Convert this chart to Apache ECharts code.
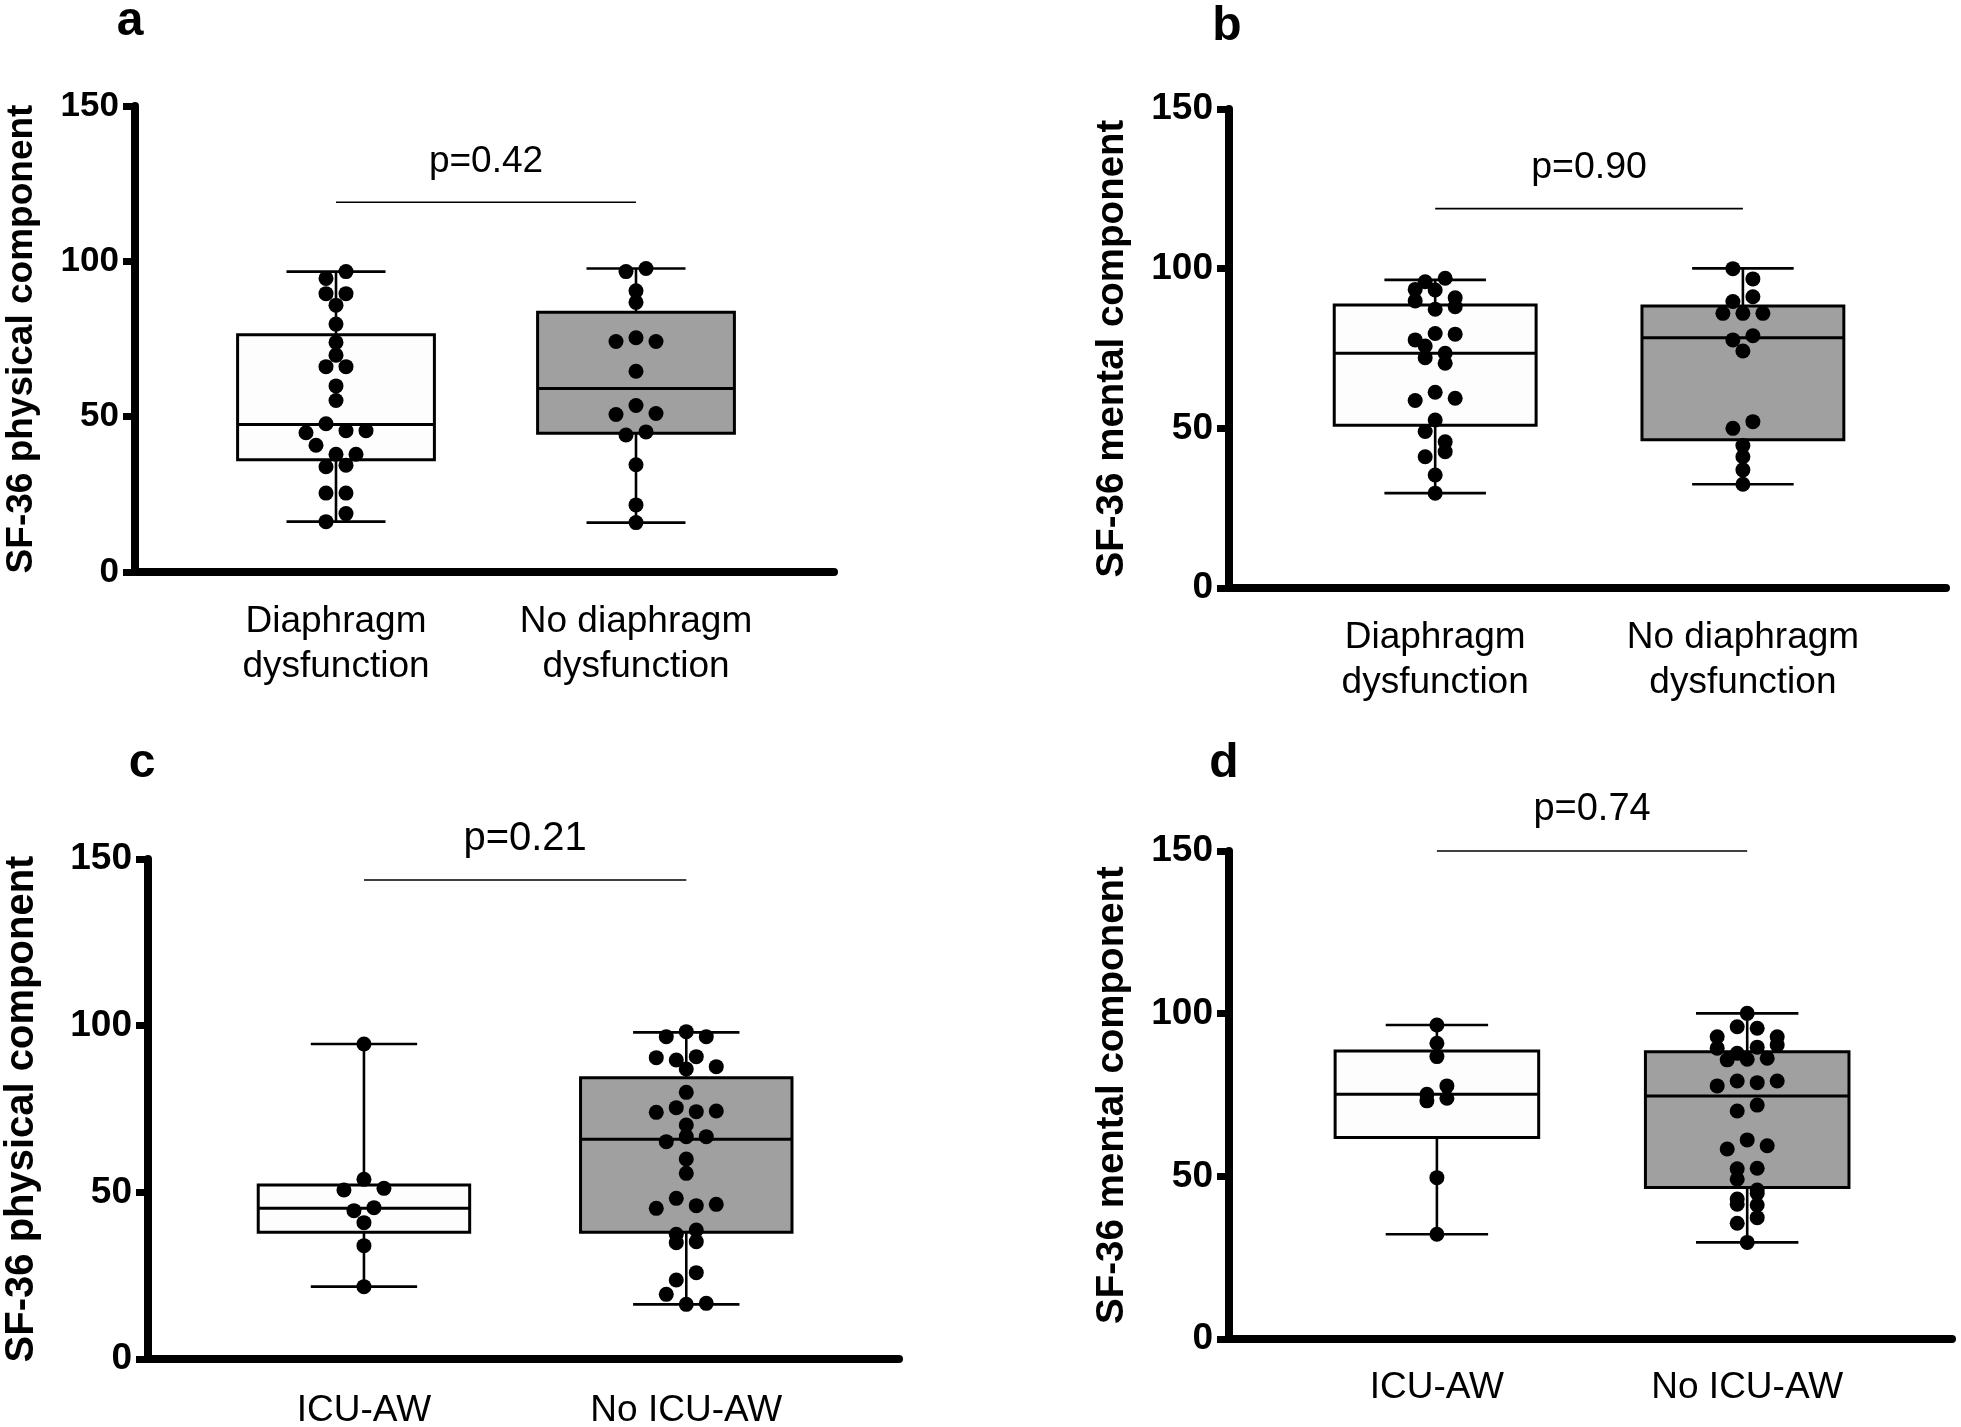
<!DOCTYPE html>
<html><head><meta charset="utf-8">
<script src="https://cdn.jsdelivr.net/npm/echarts@6/dist/echarts.min.js"></script>
<style>html,body{margin:0;padding:0;background:#fff}#c{width:1961px;height:1427px}</style>
</head><body><div id="c"></div>
<script>
const FONT = '"Liberation Sans", Arial, Helvetica, sans-serif';

// ---------- categories / labels ----------
const catsDiaphragm = ['Diaphragm\ndysfunction', 'No diaphragm\ndysfunction'];
const catsICU = ['ICU-AW', 'No ICU-AW'];
const yTitles = ['SF-36 physical component', 'SF-36 mental component', 'SF-36 physical component', 'SF-36 mental component'];
const panelLetters = ['a', 'b', 'c', 'd'];
const pLabels = ['p=0.42', 'p=0.90', 'p=0.21', 'p=0.74'];
const bracketY = [119, 118.8, 143.7, 150];
const yMin = 0, yMax = 150, yStep = 50;

// ---------- individual values (reading order) ----------
const aDys   = [94.5, 96.7, 89.6, 89.6, 85.9, 79.8, 73.9, 69.8, 66.1, 66.1, 59.9, 55.2, 44.8, 47.7, 45.5, 45.5, 40.8, 37.9, 37.9, 33.9, 34.4, 25.4, 25.4, 16.2, 18.8];
const aNoDys = [96.7, 97.7, 90.5, 86.8, 74.2, 75.4, 74.2, 64.6, 50.7, 53.6, 51.0, 44.1, 45.1, 34.5, 21.6, 15.9];
const bDys   = [95.9, 97.0, 93.5, 93.3, 90.9, 89.9, 87.3, 88.1, 77.7, 79.7, 79.5, 75.8, 73.5, 72.1, 70.4, 58.7, 61.3, 59.4, 52.6, 49.0, 45.8, 41.1, 42.7, 35.4, 29.7];
const bNoDys = [100.0, 96.8, 89.7, 91.2, 86.0, 86.0, 86.0, 77.7, 79.0, 74.2, 50.0, 52.1, 44.6, 41.1, 37.0, 32.5];
const cICU   = [94.5, 50.7, 53.9, 51.2, 44.5, 45.4, 40.9, 34.0, 21.7];
const cNoICU = [96.7, 98.2, 96.7, 90.4, 89.7, 90.7, 87.0, 87.7, 80.0, 74.0, 75.4, 74.2, 74.4, 70.2, 65.2, 66.7, 66.7, 60.0, 55.7, 45.2, 48.2, 46.0, 46.4, 34.9, 37.4, 38.7, 35.2, 23.7, 25.9, 19.4, 16.4, 16.7];
const dICU   = [96.5, 90.9, 86.8, 73.2, 75.2, 77.8, 74.0, 49.6, 32.2];
const dNoICU = [100.1, 92.9, 96.0, 95.5, 92.9, 89.4, 87.8, 89.7, 90.4, 85.8, 86.0, 86.3, 77.8, 79.3, 78.8, 79.3, 70.1, 71.9, 58.4, 61.2, 59.4, 52.3, 49.1, 52.5, 45.8, 43.0, 44.8, 41.4, 41.2, 35.6, 37.3, 29.7];

// ---------- box statistics [min, Q1, median, Q3, max] ----------
const aDysBox   = [16.2, 36.1, 47.5, 76.4, 96.7];
const aNoDysBox = [15.9, 44.7, 59.1, 83.6, 97.7];
const bDysBox   = [29.7, 51.0, 73.5, 88.6, 96.5];
const bNoDysBox = [32.5, 46.4, 78.4, 88.3, 100.1];
const cICUBox   = [21.7, 38.0, 45.2, 52.2, 94.5];
const cNoICUBox = [16.4, 38.0, 65.9, 84.4, 98.0];
const dICUBox   = [32.2, 61.9, 75.2, 88.5, 96.5];
const dNoICUBox = [29.7, 46.6, 74.7, 88.3, 100.1];

// ---------- layout / style ----------
const panels = [
  {grid: {left: 135, top: 106, width: 699, height: 466}, cats: catsDiaphragm, groups: [aDys, aNoDys], boxes: [aDysBox, aNoDysBox],
   letter: [130, 22], labelMargin: 27, titleSize: 37, tickSize: 35, pSize: 37, nameGap: 95},
  {grid: {left: 1229, top: 109, width: 717, height: 479}, cats: catsDiaphragm, groups: [bDys, bNoDys], boxes: [bDysBox, bNoDysBox],
   letter: [1227, 27], labelMargin: 27, titleSize: 38.5, tickSize: 37, pSize: 37.5, nameGap: 97},
  {grid: {left: 148, top: 859, width: 751, height: 500}, cats: catsICU, groups: [cICU, cNoICU], boxes: [cICUBox, cNoICUBox],
   letter: [142, 764], labelMargin: 29, titleSize: 40, tickSize: 37, pSize: 40, nameGap: 106},
  {grid: {left: 1229, top: 851, width: 723, height: 488}, cats: catsICU, groups: [dICU, dNoICU], boxes: [dICUBox, dNoICUBox],
   letter: [1224, 764], labelMargin: 26, titleSize: 38.5, tickSize: 37, pSize: 38, nameGap: 97}
];
const X_MIN = -0.67, X_MAX = 1.66;
const BOX_W = 0.656, CAP_W = 0.33;
const boxFills = ['#fdfdfd', '#a0a0a0'];
const DOT = 15, STEP_PX = 20, THRESH_PX = 11;

function buildOption(dotData) {
  const grids = [], xAxes = [], yAxes = [], series = [], graphics = [];
  panels.forEach((p, i) => {
    grids.push(Object.assign({containLabel: false, outerBoundsMode: 'none'}, p.grid));
    xAxes.push({
      type: 'value', gridIndex: i, min: X_MIN, max: X_MAX,
      axisLine: {show: true, onZero: false, lineStyle: {color: '#000', width: 8}},
      axisTick: {show: false}, splitLine: {show: false},
      axisLabel: {
        customValues: [0, 1], margin: p.labelMargin, color: '#000', fontFamily: FONT, fontSize: 37, lineHeight: 45,
        formatter: (v) => p.cats[Math.round(v)] || ''
      }
    });
    yAxes.push({
      type: 'value', gridIndex: i, min: yMin, max: yMax, interval: yStep,
      name: yTitles[i], nameLocation: 'middle', nameGap: p.nameGap,
      nameTextStyle: {color: '#000', fontFamily: FONT, fontSize: p.titleSize, fontWeight: 'bold'},
      axisLine: {show: true, onZero: false, lineStyle: {color: '#000', width: 8}},
      axisTick: {show: true, length: 12, lineStyle: {color: '#000', width: 7}},
      axisLabel: {color: '#000', fontFamily: FONT, fontSize: p.tickSize, fontWeight: 'bold', margin: 16},
      splitLine: {show: false}
    });
    series.push({
      type: 'custom', xAxisIndex: i, yAxisIndex: i, clip: false, z: 2, silent: true,
      data: p.boxes.map((b, k) => [k].concat(b)),
      renderItem: (params, api) => {
        const x = api.value(0);
        const pMin = api.coord([x, api.value(1)]);
        const pQ1 = api.coord([x, api.value(2)]);
        const pMed = api.coord([x, api.value(3)]);
        const pQ3 = api.coord([x, api.value(4)]);
        const pMax = api.coord([x, api.value(5)]);
        const hw = api.size([BOX_W, 0])[0] / 2;
        const cw = api.size([CAP_W, 0])[0] / 2;
        const cx = pMed[0];
        const ls = {stroke: '#000', lineWidth: 2.6};
        return {type: 'group', children: [
          {type: 'line', shape: {x1: cx, y1: pQ3[1], x2: cx, y2: pMax[1]}, style: ls},
          {type: 'line', shape: {x1: cx, y1: pQ1[1], x2: cx, y2: pMin[1]}, style: ls},
          {type: 'line', shape: {x1: cx - cw, y1: pMax[1], x2: cx + cw, y2: pMax[1]}, style: ls},
          {type: 'line', shape: {x1: cx - cw, y1: pMin[1], x2: cx + cw, y2: pMin[1]}, style: ls},
          {type: 'rect', shape: {x: cx - hw, y: pQ3[1], width: 2 * hw, height: pQ1[1] - pQ3[1]},
            style: {fill: boxFills[params.dataIndex], stroke: '#000', lineWidth: 3}},
          {type: 'line', shape: {x1: cx - hw, y1: pMed[1], x2: cx + hw, y2: pMed[1]}, style: {stroke: '#000', lineWidth: 3}}
        ]};
      }
    });
    series.push({
      type: 'custom', xAxisIndex: i, yAxisIndex: i, clip: false, z: 2, silent: true,
      data: [[0, 1, bracketY[i]]],
      renderItem: (params, api) => {
        const a = api.coord([api.value(0), api.value(2)]);
        const b = api.coord([api.value(1), api.value(2)]);
        return {type: 'group', children: [
          {type: 'line', shape: {x1: a[0], y1: a[1], x2: b[0], y2: b[1]}, style: {stroke: '#000', lineWidth: 1.6}},
          {type: 'text', style: {text: pLabels[i], x: (a[0] + b[0]) / 2, y: a[1] - 41, align: 'center', verticalAlign: 'middle',
            fontFamily: FONT, fontSize: p.pSize, fill: '#000'}}
        ]};
      }
    });
    series.push({
      type: 'scatter', xAxisIndex: i, yAxisIndex: i, z: 5, silent: true,
      symbol: 'circle', symbolSize: DOT, itemStyle: {color: '#000', opacity: 1},
      data: dotData ? dotData[i] : []
    });
    graphics.push({type: 'text', x: p.letter[0], y: p.letter[1],
      style: {text: panelLetters[i], align: 'center', verticalAlign: 'middle', fontFamily: FONT, fontSize: 48, fontWeight: 'bold', fill: '#000'}});
  });
  return {animation: false, backgroundColor: '#fff', grid: grids, xAxis: xAxes, yAxis: yAxes, series: series, graphic: graphics};
}

function swarmOffsets(values, pxY, pxX) {
  const idx = values.map((v, i) => i).sort((i, j) => values[j] - values[i] || i - j);
  const out = new Array(values.length);
  let k = 0;
  while (k < idx.length) {
    const start = values[idx[k]];
    const bin = [idx[k]];
    let m = k + 1;
    while (m < idx.length && (start - values[idx[m]]) * pxY < THRESH_PX) { bin.push(idx[m]); m++; }
    bin.sort((a, b) => a - b);
    bin.forEach((ii, j) => { out[ii] = (j - (bin.length - 1) / 2) * STEP_PX / pxX; });
    k = m;
  }
  return out;
}

const chart = echarts.init(document.getElementById('c'), null, {renderer: 'canvas'});
chart.setOption(buildOption(null));
const dotData = panels.map((p, i) => {
  const p0 = chart.convertToPixel({gridIndex: i}, [0, 0]);
  const p1 = chart.convertToPixel({gridIndex: i}, [1, 1]);
  const pxX = p1[0] - p0[0], pxY = p0[1] - p1[1];
  const pts = [];
  p.groups.forEach((vals, g) => {
    const off = swarmOffsets(vals, pxY, pxX);
    vals.forEach((v, k) => pts.push([g + off[k], v]));
  });
  return pts;
});
chart.setOption(buildOption(dotData), true);
</script></body></html>
